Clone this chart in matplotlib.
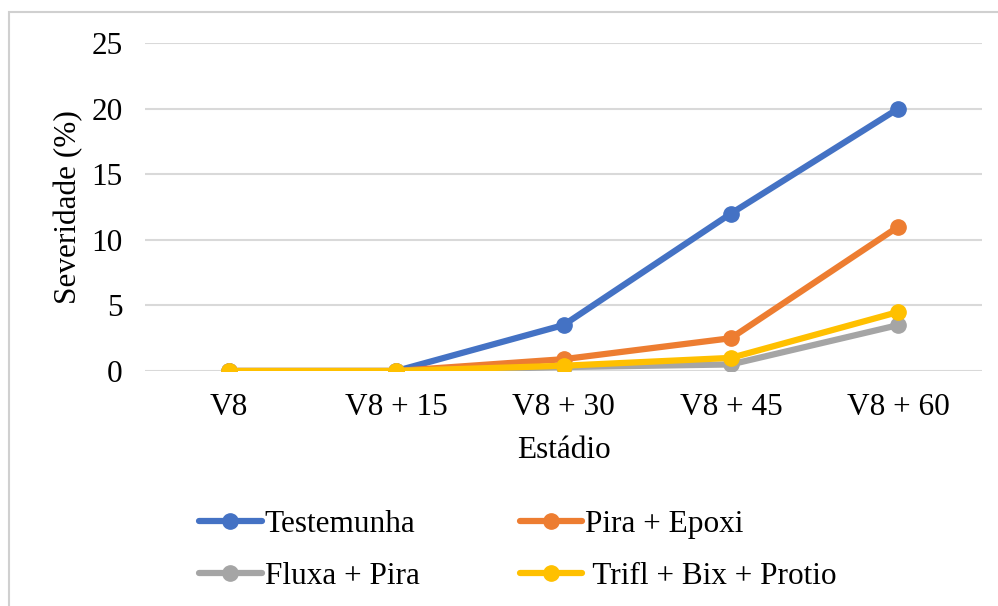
import matplotlib.pyplot as plt
from matplotlib.patches import Rectangle

# severidade média por estádio
estadios = ["V8", "V8 + 15", "V8 + 30", "V8 + 45", "V8 + 60"]
testemunha = [0, 0, 3.5, 12, 20]
pira_epoxi = [0, 0, 0.9, 2.5, 11]
fluxa_pira = [0, 0, 0.3, 0.5, 3.5]
trifl_bix_protio = [0, 0, 0.4, 1.0, 4.5]

plt.rcParams['font.family'] = ['Liberation Serif', 'DejaVu Serif']
fs = 22.5

fig = plt.figure(figsize=(9.98, 6.06), dpi=100)
ax = fig.add_axes([145 / 998, 1 - 371 / 606, (982 - 145) / 998, (371 - 43) / 606])

x = list(range(len(estadios)))
series = [
    ("Testemunha", testemunha, "#4472C4"),
    ("Pira + Epoxi", pira_epoxi, "#ED7D31"),
    ("Fluxa + Pira", fluxa_pira, "#A5A5A5"),
    (" Trifl + Bix + Protio", trifl_bix_protio, "#FFC000"),
]
linhas = {}
for nome, vals, cor in series:
    l, = ax.plot(x, vals, color=cor, lw=4.5, marker="o", ms=11, label=nome,
                 solid_capstyle="round", zorder=3)
    linhas[nome] = l

ax.set_xlim(-0.5, 4.5)
ax.set_ylim(0, 25)
ax.set_yticks([0, 5, 10, 15, 20, 25])
ax.set_xticks(x)
ax.set_xticklabels(estadios)
ax.tick_params(axis="both", length=0, labelsize=fs)
ax.tick_params(axis="y", pad=16)
ax.tick_params(axis="x", pad=16)
ax.grid(axis="y", color="#d9d9d9", lw=1.5)
ax.set_axisbelow(True)
for s in ax.spines.values():
    s.set_visible(False)
ax.set_ylabel("Severidade (%)", fontsize=fs, labelpad=6)
ax.set_xlabel("Estádio", fontsize=fs, labelpad=10)

ordem = ["Testemunha", "Fluxa + Pira", "Pira + Epoxi", " Trifl + Bix + Protio"]
fig.legend([linhas[n] for n in ordem], ordem, ncol=2, loc="center",
           bbox_to_anchor=(0.519, 0.092), frameon=False, fontsize=fs,
           handlelength=2.0, handletextpad=0.1, columnspacing=3.2,
           labelspacing=0.75)

# moldura da figura
fig.patches.append(Rectangle((9 / 998, -0.05), 1.0, 1 - 12 / 606 + 0.05,
                             transform=fig.transFigure, fill=False,
                             edgecolor="#d0d0d0", lw=1.5))

fig.savefig("out.png", dpi=100)
